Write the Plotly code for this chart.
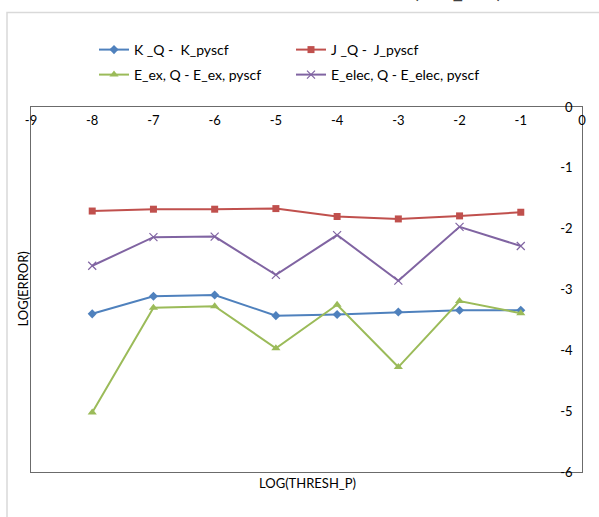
import plotly.graph_objects as go

x_vals = [-8, -7, -6, -5, -4, -3, -2, -1]
k_err = [-3.40, -3.11, -3.09, -3.43, -3.41, -3.37, -3.34, -3.34]
j_err = [-1.71, -1.68, -1.68, -1.67, -1.80, -1.84, -1.79, -1.73]
eex_err = [-5.02, -3.30, -3.275, -3.965, -3.25, -4.275, -3.19, -3.39]
eelec_err = [-2.61, -2.14, -2.13, -2.76, -2.105, -2.855, -1.97, -2.285]

names = ["K _Q -  K_pyscf", "J _Q -  J_pyscf",
         "E_ex, Q - E_ex, pyscf", "E_elec, Q - E_elec, pyscf"]
x_ticks = [-9, -8, -7, -6, -5, -4, -3, -2, -1, 0]
y_ticks = [0, -1, -2, -3, -4, -5, -6]

FONT = "Lato"
W, H = 599, 517
L, R, T, B = 31, 17, 107, 45
pw, ph = W - L - R, H - T - B

def px(x):
    return (x - L) / pw

def py(y):
    return (H - B - y) / ph

fig = go.Figure()
specs = [
    (k_err, names[0], "#4F81BD", dict(symbol="diamond", size=7), "legend"),
    (j_err, names[1], "#C0504D", dict(symbol="square", size=7), "legend"),
    (eex_err, names[2], "#9BBB59", dict(symbol="triangle-up", size=8), "legend2"),
    (eelec_err, names[3], "#8064A2", dict(symbol="x-thin-open", size=8, line=dict(width=1.2, color="#8064A2")), "legend2"),
]
for ys, nm, col, mk, lg in specs:
    fig.add_trace(go.Scatter(x=x_vals, y=ys, name=nm, mode="lines+markers",
                             line=dict(color=col, width=2),
                             marker=dict(color=col, **mk), legend=lg))

leg_common = dict(orientation="h", xanchor="left", yanchor="middle",
                  entrywidth=152, entrywidthmode="pixels", itemwidth=30,
                  font=dict(family=FONT, size=14), bgcolor="rgba(0,0,0,0)")

fig.update_layout(
    width=W, height=H,
    margin=dict(l=L, r=R, t=T, b=B),
    paper_bgcolor="white", plot_bgcolor="white",
    font=dict(family=FONT, size=13, color="#000000"),
    showlegend=True,
    legend=dict(x=px(94), y=py(50), **leg_common),
    legend2=dict(x=px(94), y=py(75), **leg_common),
    xaxis=dict(range=[-9, 0], tickvals=x_ticks, ticktext=[str(v) for v in x_ticks],
               side="top", ticklabelposition="inside", ticklabeloverflow="allow",
               ticklabelstandoff=9,
               showgrid=False, zeroline=False, ticks="",
               showline=True, linecolor="#6b6b6b", linewidth=1, mirror=True,
               tickfont=dict(family=FONT, size=13, color="#000")),
    yaxis=dict(range=[-6, 0], tickvals=y_ticks, ticktext=[str(v) for v in y_ticks],
               side="right", ticklabelposition="inside", ticklabeloverflow="allow",
               ticklabelstandoff=9,
               showgrid=False, zeroline=False, ticks="",
               showline=True, linecolor="#6b6b6b", linewidth=1, mirror=True,
               tickfont=dict(family=FONT, size=13, color="#000")),
    shapes=[dict(type="rect", xref="paper", yref="paper",
                 x0=px(7), x1=px(640), y0=py(560), y1=py(12.5),
                 line=dict(color="#D9D9D9", width=1.5), fillcolor="rgba(0,0,0,0)", layer="below")],
    annotations=[
        dict(text="LOG(ERROR)", xref="paper", yref="paper", x=px(22), y=py(289.5),
             textangle=-90, showarrow=False, xanchor="center", yanchor="middle",
             font=dict(family=FONT, size=13)),
        dict(text="LOG(THRESH_P)", xref="paper", yref="paper", x=px(307), y=py(483),
             showarrow=False, xanchor="center", yanchor="middle",
             font=dict(family=FONT, size=13)),
        dict(text="(      _      )", xref="paper", yref="paper", x=px(457), y=py(5),
             showarrow=False, xanchor="center", yanchor="bottom",
             font=dict(family=FONT, size=22, color="#404040")),
    ],
)

fig.write_html("out.html")
